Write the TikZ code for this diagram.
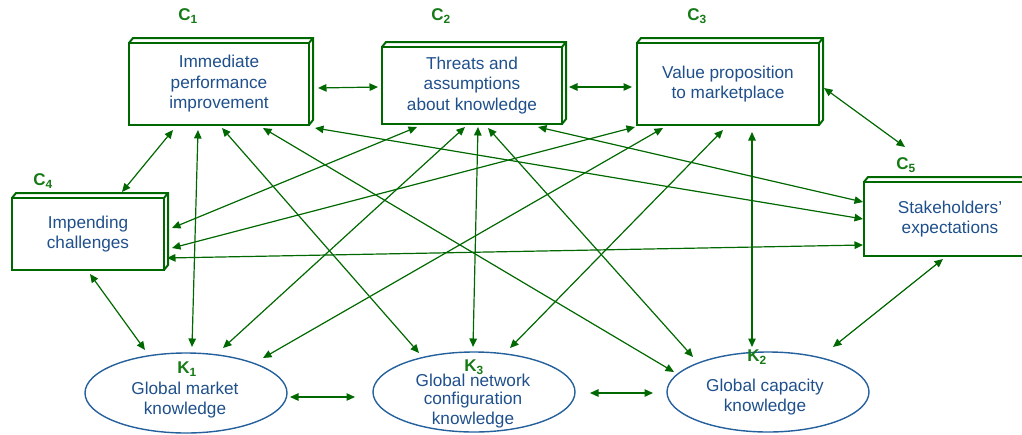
\documentclass[tikz,border=0pt]{standalone}
\usepackage{fontspec}
\setmainfont{Liberation Sans}
\usetikzlibrary{arrows.meta,shapes.geometric}

\definecolor{lnkgreen}{RGB}{0,104,0}
\definecolor{lblgreen}{RGB}{22,122,22}
\definecolor{txtblue}{RGB}{31,80,140}
\definecolor{ellblue}{RGB}{36,96,156}

\tikzstyle{cbox}=[rectangle,draw=lnkgreen,line width=2.6pt,fill=white,inner sep=0pt,outer sep=0pt,align=center,text=txtblue,font=\fontsize{17.2}{20.5}\selectfont]
\tikzstyle{kell}=[ellipse,draw=ellblue,line width=1.4pt,minimum width=202pt,minimum height=80pt,inner sep=0pt,outer sep=0pt]
\tikzstyle{ktext}=[align=center,text=txtblue,font=\fontsize{17.2}{20}\selectfont]
\tikzstyle{clabel}=[text=lblgreen,font=\fontsize{17}{17}\selectfont\bfseries]
\tikzstyle{link}=[draw=lnkgreen,line width=1.2pt,{Triangle[length=8.5pt,width=7.5pt]}-{Triangle[length=8.5pt,width=7.5pt]}]

\begin{document}
\begin{tikzpicture}[x=1pt,y=-1pt]
        \useasboundingbox (0,0) rectangle (1022,434);

        \draw (219,84)   node[cbox,minimum width=180pt,minimum height=82pt](C1){Immediate\\performance\\improvement};
        \draw (472,85.5) node[cbox,minimum width=180pt,minimum height=77pt](C2){Threats and\\assumptions\\about knowledge};
        \draw (728,84)   node[cbox,minimum width=182pt,minimum height=82pt](C3){Value proposition\\to marketplace};
        \draw (88,234)   node[cbox,minimum width=152pt,minimum height=72pt](C4){Impending\\challenges};
        \draw (950,219)  node[cbox,minimum width=172pt,minimum height=74pt](C5){Stakeholders’\\expectations};
        %
        \foreach \n in {C1,C2,C3,C4,C5}
            \draw[draw=lnkgreen,line width=2pt,line join=miter]
                (\n.north west) -- ++(4pt,5pt) -- ([shift={(4pt,5pt)}]\n.north east)
                -- ([shift={(4pt,5pt)}]\n.south east) -- (\n.south east)
                (\n.north east) -- ++(4pt,5pt);
        %
        \draw (186,393) node[kell](K1){};
        \draw (474,392) node[kell](K3){};
        \draw (768,392) node[kell](K2){};
        \draw (185,400) node[ktext](K1txt){Global market\\knowledge};
        \draw (473,401) node[ktext](K3txt){Global network\\[-1.5pt]configuration\\knowledge};
        \draw (765,397) node[ktext](K2txt){Global capacity\\knowledge};
        %
        \draw (188,16)  node[clabel](C1lab){C\textsubscript{1}};
        \draw (441,16)  node[clabel](C2lab){C\textsubscript{2}};
        \draw (697,16)  node[clabel](C3lab){C\textsubscript{3}};
        \draw (43,181)  node[clabel](C4lab){C\textsubscript{4}};
        \draw (906,165) node[clabel](C5lab){C\textsubscript{5}};
        \draw (187,369) node[clabel](K1lab){K\textsubscript{1}};
        \draw (474,367) node[clabel](K3lab){K\textsubscript{3}};
        \draw (757,357) node[clabel](K2lab){K\textsubscript{2}};
        %
        \path
            ([shift={(9pt,-4pt)}]C1.east)        edge[link] ([shift={(-4pt,-1.5pt)}]C2.west)
            ([shift={(7pt,-1.5pt)}]C2.east)      edge[link] ([shift={(-5pt,-3pt)}]C3.west)
            ([shift={(5pt,-4pt)}]C3.east)        edge[link] ([shift={(-45pt,35pt)}]C5.north)
            ([shift={(-46pt,-5pt)}]C1.south)     edge[link] ([shift={(34pt,6pt)}]C4.north)
            ([shift={(2pt,-4pt)}]C4.south)       edge[link] ([shift={(-41pt,43pt)}]K1.center)
            ([shift={(-21pt,-5pt)}]C1.south)     edge[link] ([shift={(6pt,46pt)}]K1.center)
            ([shift={(3pt,-3pt)}]C1.south)       edge[link] ([shift={(-55pt,39pt)}]K3.center)
            ([shift={(44pt,-3pt)}]C1.south)      edge[link] ([shift={(-94pt,20pt)}]K2.center)
            ([shift={(6pt,-3pt)}]C1.south east)  edge[link] ([shift={(-1pt,0pt)}]C5.west)
            ([shift={(66pt,-3pt)}]C2.south)      edge[link] ([shift={(-1pt,17pt)}]C5.west)
            ([shift={(-55pt,-3pt)}]C2.south)     edge[link] ([shift={(8pt,6pt)}]C4.east)
            ([shift={(-7pt,-3pt)}]C2.south)      edge[link] ([shift={(37pt,45pt)}]K1.center)
            ([shift={(6pt,-3pt)}]C2.south)       edge[link] ([shift={(-1pt,45pt)}]K3.center)
            ([shift={(16pt,-4pt)}]C2.south)      edge[link] ([shift={(-75pt,35pt)}]K2.center)
            ([shift={(-93pt,-2pt)}]C3.south)     edge[link] ([shift={(8pt,-14pt)}]C4.east)
            ([shift={(-65pt,-3pt)}]C3.south)     edge[link] ([shift={(77pt,35pt)}]K1.center)
            ([shift={(-5pt,-5pt)}]C3.south)      edge[link] ([shift={(36pt,44pt)}]K3.center)
            ([shift={(24pt,-7pt)}]C3.south)      edge[link] ([shift={(-16pt,45pt)}]K2.center)
            ([shift={(3pt,-24pt)}]C4.east)       edge[link] ([shift={(-1pt,-26pt)}]C5.west)
            ([shift={(3pt,-4pt)}]K1.east)        edge[link] ([shift={(-18pt,-5pt)}]K3.west)
            ([shift={(15pt,-1pt)}]K3.east)       edge[link] ([shift={(-14pt,-1pt)}]K2.west)
            ([shift={(65pt,45pt)}]K2.center)     edge[link] ([shift={(-7pt,-3pt)}]C5.south)
        ;
\end{tikzpicture}
\end{document}
